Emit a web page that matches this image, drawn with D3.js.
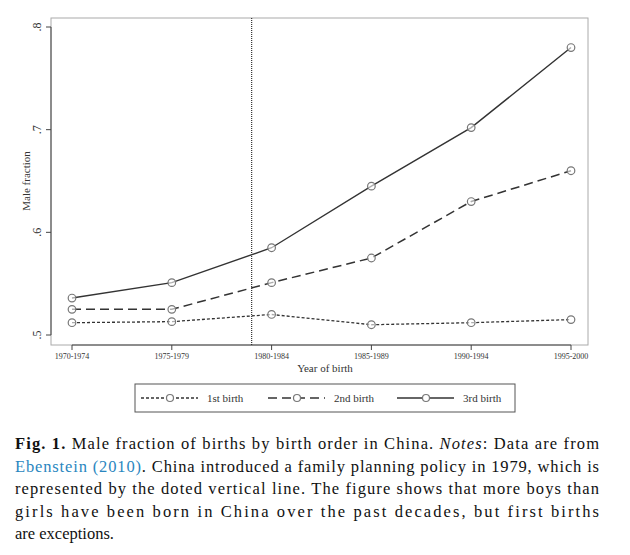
<!DOCTYPE html>
<html><head><meta charset="utf-8">
<script src="https://cdn.jsdelivr.net/npm/d3@7"></script>
<style>body{margin:0;background:#fff}svg{font-family:"Liberation Serif",serif}</style>
</head><body>
<script>
// data
var periods = ["1970-1974", "1975-1979", "1980-1984", "1985-1989", "1990-1994", "1995-2000"];
var first = [0.512, 0.513, 0.520, 0.510, 0.512, 0.515];
var second = [0.525, 0.525, 0.551, 0.575, 0.630, 0.660];
var third = [0.536, 0.551, 0.585, 0.645, 0.702, 0.780];
var yTicks = [0.5, 0.6, 0.7, 0.8];
var policyPos = 1.8; // 1979, between 2nd and 3rd period
var seriesNames = ["1st birth", "2nd birth", "3rd birth"];
var dashes = ["3,2", "9,5", null];
var widths = [1.3, 1.5, 1.4];

var svg = d3.select("body").append("svg").attr("width", 630).attr("height", 555);

var x = d3.scaleLinear().domain([0, periods.length - 1]).range([72, 571]);
var y = d3.scaleLinear().domain([0.5, 0.8]).range([335, 27]);

// frame
svg.append("rect").attr("x", 51).attr("y", 18).attr("width", 537).attr("height", 327)
    .attr("fill", "none").attr("stroke", "#aaa").attr("stroke-width", 1);

// y axis
svg.append("line").attr("x1", 51).attr("x2", 51).attr("y1", y(0.8)).attr("y2", y(0.5)).attr("stroke", "#444");
yTicks.forEach(function (t) {
    svg.append("line").attr("x1", 46).attr("x2", 51).attr("y1", y(t)).attr("y2", y(t)).attr("stroke", "#444");
    svg.append("text").attr("transform", "translate(41," + y(t) + ") rotate(-90)")
        .attr("text-anchor", "middle").attr("font-size", 12).attr("fill", "#333")
        .text(d3.format(".1f")(t).replace("0.", "."));
});
svg.append("text").attr("transform", "translate(30,181) rotate(-90)")
    .attr("text-anchor", "middle").attr("font-size", 11).attr("fill", "#333").text("Male fraction");

// x axis
svg.append("line").attr("x1", x(0)).attr("x2", x(5)).attr("y1", 345).attr("y2", 345).attr("stroke", "#444");
periods.forEach(function (p, i) {
    svg.append("line").attr("x1", x(i)).attr("x2", x(i)).attr("y1", 345).attr("y2", 350).attr("stroke", "#444");
    svg.append("text").attr("x", x(i)).attr("y", 359).attr("text-anchor", "middle")
        .attr("font-size", 8).attr("fill", "#333").text(p);
});
svg.append("text").attr("x", 325).attr("y", 372).attr("text-anchor", "middle")
    .attr("font-size", 11).attr("fill", "#333").text("Year of birth");

// policy line
svg.append("line").attr("x1", x(policyPos)).attr("x2", x(policyPos)).attr("y1", 18).attr("y2", 345)
    .attr("stroke", "#333").attr("stroke-width", 1.2).attr("stroke-dasharray", "1,1");

var line = d3.line().x(function (d, i) { return x(i); }).y(function (d) { return y(d); });
[first, second, third].forEach(function (s, k) {
    svg.append("path").datum(s).attr("d", line).attr("fill", "none")
        .attr("stroke", "#333").attr("stroke-width", widths[k]).attr("stroke-dasharray", dashes[k]);
    svg.selectAll(null).data(s).enter().append("circle")
        .attr("cx", function (d, i) { return x(i); }).attr("cy", function (d) { return y(d); })
        .attr("r", 3.8).attr("fill", "#fff").attr("fill-opacity", 0.6).attr("stroke", "#777").attr("stroke-width", 1.2);
});

// legend
svg.append("rect").attr("x", 135).attr("y", 384).attr("width", 380).attr("height", 28)
    .attr("fill", "#fff").attr("stroke", "#555");
var lx = [141, 268, 397];
seriesNames.forEach(function (n, k) {
    svg.append("line").attr("x1", lx[k]).attr("x2", lx[k] + 57).attr("y1", 398).attr("y2", 398)
        .attr("stroke", "#333").attr("stroke-width", widths[k]).attr("stroke-dasharray", dashes[k]);
    svg.append("circle").attr("cx", lx[k] + 29).attr("cy", 398).attr("r", 3.5)
        .attr("fill", "#fff").attr("stroke", "#777").attr("stroke-width", 1.2);
    svg.append("text").attr("x", lx[k] + 66).attr("y", 402).attr("font-size", 11).attr("fill", "#333").text(n);
});

// caption
var cap = svg.append("g").attr("font-size", 16.5).attr("fill", "#111");
var lines = [
    [["Fig. 1.", "bold"], [" Male fraction of births by birth order in China. "], ["Notes", "italic"], [": Data are from"]],
    [["Ebenstein (2010)", "link"], [". China introduced a family planning policy in 1979, which is"]],
    [["represented by the doted vertical line. The figure shows that more boys than"]],
    [["girls have been born in China over the past decades, but first births"]],
    [["are exceptions."]]
];
lines.forEach(function (ln, i) {
    var t = cap.append("text").attr("x", 15).attr("y", 449 + i * 22.6);
    if (i < 4) t.attr("textLength", 584).attr("lengthAdjust", "spacing");
    ln.forEach(function (part) {
        var ts = t.append("tspan").text(part[0]);
        if (part[1] === "bold") ts.attr("font-weight", "bold");
        if (part[1] === "italic") ts.attr("font-style", "italic");
        if (part[1] === "link") ts.attr("fill", "#2a86c0");
    });
});
</script>
</body></html>
